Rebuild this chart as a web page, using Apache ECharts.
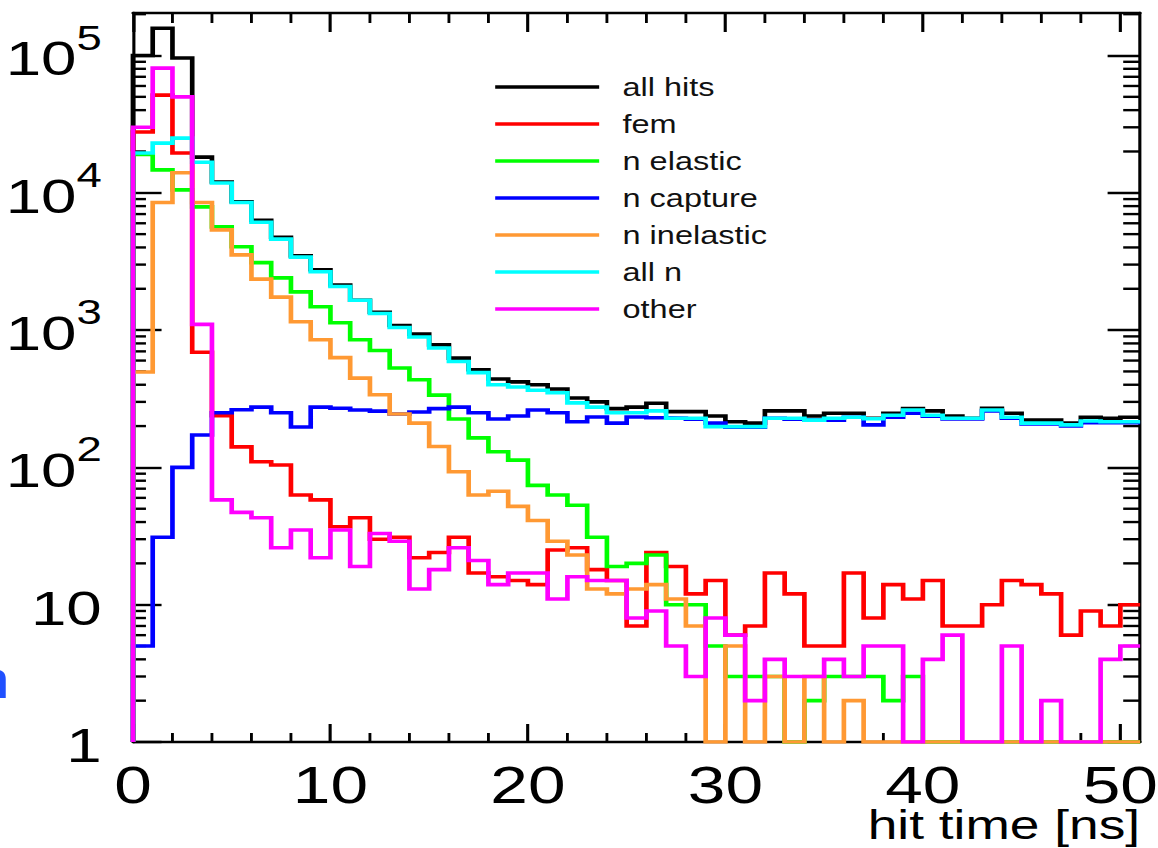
<!DOCTYPE html>
<html>
<head>
<meta charset="utf-8">
<title>hit time</title>
<script src="https://cdn.jsdelivr.net/npm/echarts@6/dist/echarts.min.js"></script>
<style>
  html, body { margin: 0; padding: 0; background: #ffffff; overflow: hidden; }
  #wrap { width: 1158px; height: 848px; overflow: hidden; }
  /* the figure is laid out narrow and stretched horizontally */
  #chart { width: 891px; height: 848px; transform: scaleX(1.2997); transform-origin: 0 0; }
</style>
</head>
<body>
<div id="wrap"><div id="chart"></div></div>
<script>
// ---- histogram contents: 1 ns bins from 0 to 51 ns (bin i covers [i, i+1)) ----
const seriesNames  = ['all hits', 'fem', 'n elastic', 'n capture', 'n inelastic', 'all n', 'other'];
const seriesColors = ['#000000', '#ff0000', '#00ff00', '#0000ff', '#ff9933', '#00ffff', '#ff00ff'];

const allHits = [100000, 158000, 96000, 18200, 12000, 8600, 6300, 4750, 3470, 2750,
                 2130, 1650, 1350, 1080, 935, 780, 625, 515, 440, 420,
                 400, 372, 320, 300, 268, 275, 293, 255, 255, 237,
                 215, 210, 258, 258, 237, 248, 248, 228, 248, 268,
                 258, 237, 228, 270, 248, 221, 221, 210, 232, 228, 232];

const fem = [27700, 51500, 19500, 690, 238, 141, 110, 104, 63, 58,
             37, 43, 30, 31, 22, 24, 31, 17, 16, 15,
             14, 25, 26, 18, 15, 7, 24, 19, 12, 15,
             6, 7, 17, 12, 5, 5, 17, 8, 14, 11,
             15, 7, 7, 10, 15, 14, 12, 6, 9, 7, 10];

const nElastic = [19000, 14700, 10500, 7900, 5650, 4050, 3100, 2400, 1900, 1480,
                  1130, 850, 710, 530, 435, 336, 225, 164, 130, 113,
                  74, 63, 53, 31, 19, 20, 23, 10, 10, 5,
                  3, 3, 3, 1, 2, 3, 3, 3, 2, 3,
                  1, 1, 1, 1, 1, 1, 1, 1, 1, 1, 1];

const nCapture = [5, 31, 100, 172, 250, 263, 275, 250, 197, 275,
                  270, 262, 257, 245, 253, 268, 275, 250, 225, 237,
                  262, 250, 215, 233, 210, 233, 230, 228, 224, 210,
                  196, 196, 228, 224, 221, 221, 232, 204, 232, 248,
                  236, 225, 225, 258, 228, 207, 207, 200, 212, 212, 212];

const nInelastic = [495, 8500, 14000, 8500, 5370, 3530, 2350, 1740, 1150, 850,
                    630, 447, 338, 245, 210, 142, 93, 63, 67, 52,
                    41, 29, 23, 13, 12, 13, 14, 11, 7, 1,
                    5, 1, 3, 1, 3, 1, 2, 1, 1, 1,
                    1, 1, 1, 1, 1, 1, 1, 1, 1, 1, 1];

const allN = [19500, 23000, 25000, 16700, 11800, 8500, 6100, 4600, 3400, 2660,
              2080, 1650, 1320, 1045, 890, 740, 590, 490, 400, 385,
              365, 350, 295, 275, 250, 250, 258, 228, 228, 198,
              198, 198, 228, 228, 221, 228, 232, 226, 240, 262,
              240, 228, 228, 262, 232, 210, 210, 204, 218, 215, 215];

const other = [30000, 81000, 50000, 1100, 58, 47, 43, 26, 35, 22,
               35, 19, 33, 29, 13, 18, 26, 21, 14, 17,
               17, 11, 16, 15, 15, 8, 9, 5, 3, 8,
               6, 2, 4, 3, 3, 4, 3, 5, 5, 1,
               4, 6, 1, 1, 5, 1, 2, 1, 1, 4, 5];

// ---- axes ----
const X_MIN = 0, X_MAX = 51;
const Y_MIN = 1, Y_MAX = 204000;
const xTickValues = [0, 10, 20, 30, 40, 50];
const xMinorTicks = [2, 4, 6, 8, 12, 14, 16, 18, 22, 24, 26, 28, 32, 34, 36, 38, 42, 44, 46, 48];
const yTickValues = [1, 10, 100, 1000, 10000, 100000];
const yMinorTicks = [];
for (let k = 0; k <= 5; k++) {
  for (let m = 2; m <= 9; m++) {
    const v = m * Math.pow(10, k);
    if (v < Y_MAX) yMinorTicks.push(v);
  }
}

const FONT = "'Liberation Sans', Arial, Helvetica, sans-serif";
const seriesCounts = [allHits, fem, nElastic, nCapture, nInelastic, allN, other];

// outline of a histogram: rise from the baseline at x = 0, then one step per bin
function stepData(counts) {
  const pts = [[X_MIN, Y_MIN]];
  counts.forEach((c, i) => pts.push([i, c]));
  pts.push([counts.length, counts[counts.length - 1]]);
  return pts;
}

const histSeries = seriesNames.map((name, i) => ({
  type: 'line',
  name: name,
  data: stepData(seriesCounts[i]),
  step: 'end',
  symbol: 'none',
  color: seriesColors[i],
  itemStyle: { color: seriesColors[i] },
  lineStyle: { color: seriesColors[i], width: 3.6, cap: 'butt', join: 'miter' },
  silent: true,
  animation: false,
  z: 3
}));

// minor ticks on the left and right sides of the frame
const yMinorSeries = {
  type: 'custom',
  name: 'y minor ticks',
  silent: true,
  animation: false,
  z: 2,
  data: yMinorTicks.map(v => [X_MIN, v]),
  renderItem: function (params, api) {
    const v = api.value(1);
    const l = api.coord([X_MIN, v]);
    const r = api.coord([X_MAX, v]);
    return {
      type: 'group',
      children: [
        { type: 'line', shape: { x1: l[0], y1: l[1], x2: l[0] + 10, y2: l[1] }, style: { stroke: '#000', lineWidth: 2.4 } },
        { type: 'line', shape: { x1: r[0], y1: r[1], x2: r[0] - 13, y2: r[1] }, style: { stroke: '#000', lineWidth: 2.4 } }
      ]
    };
  }
};

// minor ticks on the bottom and top sides of the frame
const xMinorSeries = {
  type: 'custom',
  name: 'x minor ticks',
  silent: true,
  animation: false,
  z: 2,
  data: xMinorTicks.map(v => [v, Y_MIN]),
  renderItem: function (params, api) {
    const x = api.value(0);
    const b = api.coord([x, Y_MIN]);
    const t = api.coord([x, Y_MAX]);
    return {
      type: 'group',
      children: [
        { type: 'line', shape: { x1: b[0], y1: b[1], x2: b[0], y2: b[1] - 9 }, style: { stroke: '#000', lineWidth: 2.2 } },
        { type: 'line', shape: { x1: t[0], y1: t[1], x2: t[0], y2: t[1] + 10 }, style: { stroke: '#000', lineWidth: 2.2 } }
      ]
    };
  }
};

const frameLine = { show: true, onZero: false, lineStyle: { color: '#000', width: 2.4 } };

const option = {
  backgroundColor: '#ffffff',
  animation: false,
  grid: {
    left: 102.3, right: 13.8, top: 13, bottom: 106,
    containLabel: false, outerBoundsMode: 'none'
  },
  legend: {
    orient: 'vertical',
    left: 376, top: 69.5,
    data: seriesNames,
    icon: 'rect',
    itemWidth: 80, itemHeight: 3.4, itemGap: 12,
    itemStyle: { borderWidth: 0 },
    selectedMode: false,
    textStyle: { fontFamily: FONT, fontSize: 25, lineHeight: 25, color: '#111', padding: [0, 0, 0, 13] }
  },
  xAxis: [
    {
      type: 'value', position: 'bottom', min: X_MIN, max: X_MAX,
      axisLine: frameLine,
      axisTick: { show: true, inside: true, length: 18, customValues: xTickValues, lineStyle: { color: '#000', width: 2.4 } },
      axisLabel: { customValues: xTickValues, fontFamily: FONT, fontSize: 52, lineHeight: 40, color: '#000', margin: 23 },
      splitLine: { show: false },
      name: 'hit time [ns]',
      nameLocation: 'end',
      nameGap: 0,
      nameMoveOverlap: false,
      nameTextStyle: { fontFamily: FONT, fontSize: 41, lineHeight: 32, color: '#000', align: 'right', verticalAlign: 'top', padding: [67, 0, 0, 0] }
    },
    {
      type: 'value', position: 'top', min: X_MIN, max: X_MAX,
      axisLine: frameLine,
      axisTick: { show: true, inside: true, length: 19, customValues: xTickValues, lineStyle: { color: '#000', width: 2.4 } },
      axisLabel: { show: false },
      splitLine: { show: false }
    }
  ],
  yAxis: [
    {
      type: 'log', logBase: 10, position: 'left', min: Y_MIN, max: Y_MAX,
      axisLine: frameLine,
      axisTick: { show: true, inside: true, length: 22, customValues: yTickValues, lineStyle: { color: '#000', width: 2.4 } },
      axisLabel: {
        customValues: yTickValues,
        margin: 24,
        fontFamily: FONT, color: '#000',
        formatter: function (v) {
          const e = Math.round(Math.log10(v));
          if (e === 0) return '{b|1}';
          if (e === 1) return '{b|10}';
          return '{b|10}{s|' + e + '}';
        },
        rich: {
          b: { fontFamily: FONT, fontSize: 49, color: '#000', padding: [6, 0, 0, 0] },
          s: { fontFamily: FONT, fontSize: 35, color: '#000', padding: [0, 0, 36, 0] }
        }
      },
      splitLine: { show: false }
    },
    {
      type: 'log', logBase: 10, position: 'right', min: Y_MIN, max: Y_MAX,
      axisLine: frameLine,
      axisTick: { show: true, inside: true, length: 25, customValues: yTickValues, lineStyle: { color: '#000', width: 2.4 } },
      axisLabel: { show: false },
      splitLine: { show: false }
    }
  ],
  graphic: [
    {
      type: 'text', x: 8, y: 679, silent: true,
      style: { text: 'n', fontFamily: FONT, fontSize: 54, fill: '#2050ff', align: 'right', verticalAlign: 'middle' }
    }
  ],
  series: [yMinorSeries, xMinorSeries].concat(histSeries)
};

const chart = echarts.init(document.getElementById('chart'), null, { renderer: 'svg' });
chart.setOption(option);
</script>
</body>
</html>
